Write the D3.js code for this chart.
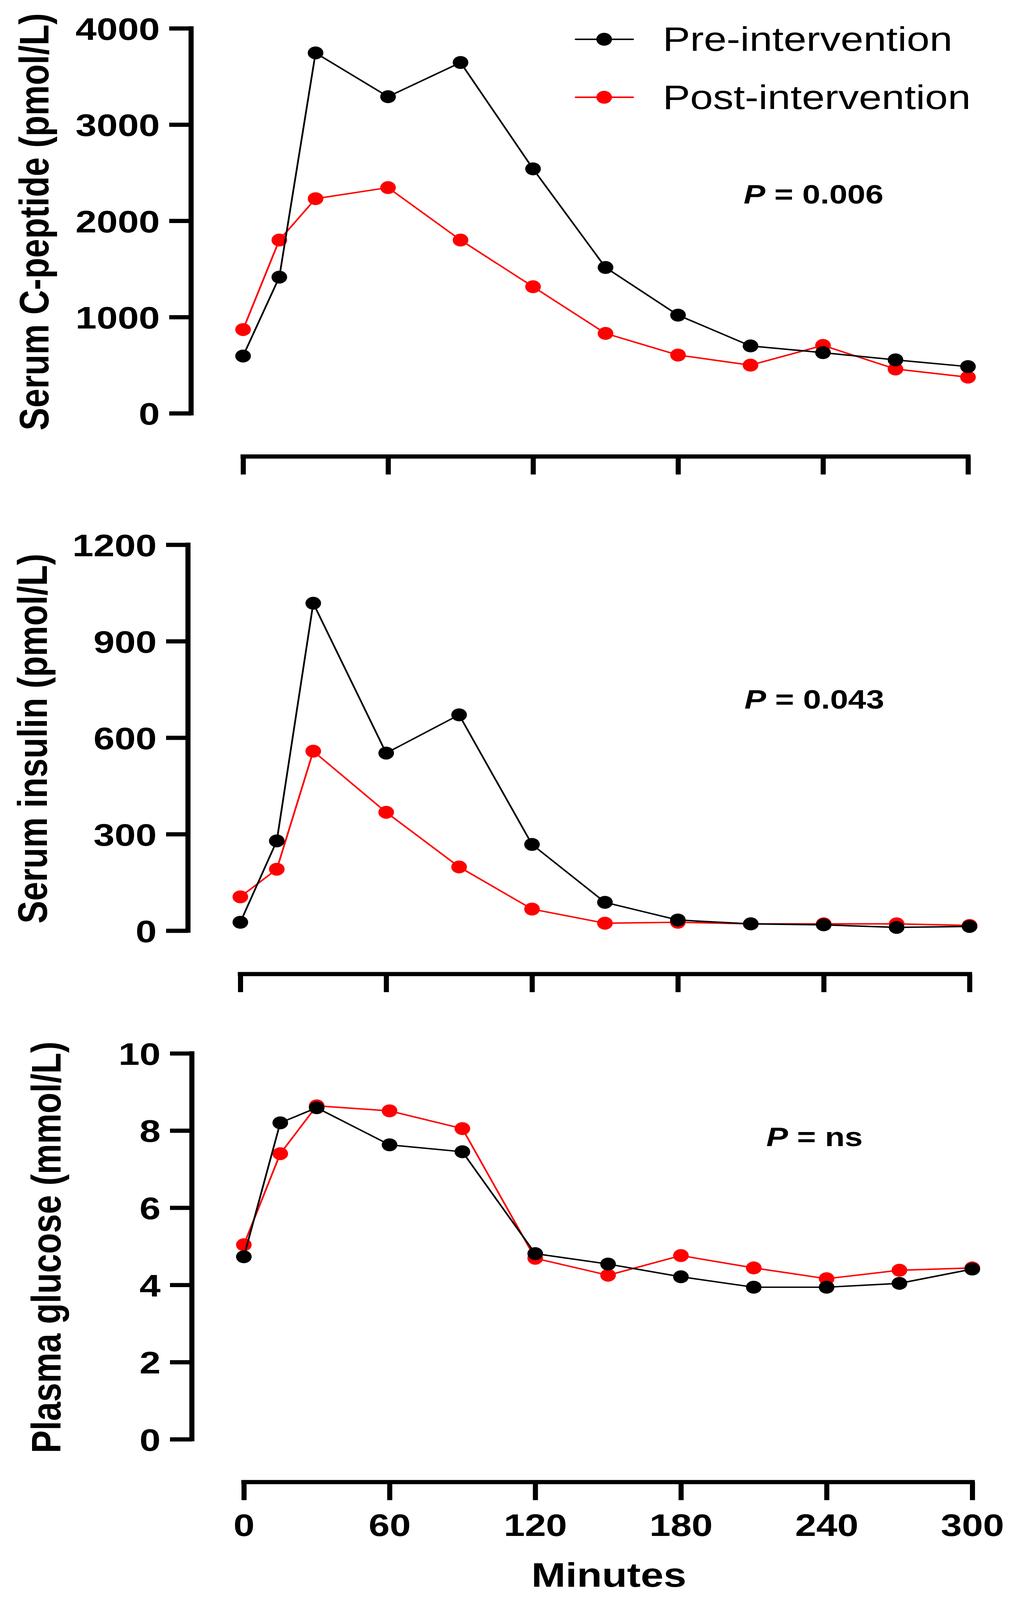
<!DOCTYPE html>
<html>
<head>
<meta charset="utf-8">
<script src="https://cdn.jsdelivr.net/npm/d3@7"></script>
<style>
html, body { margin: 0; background: #fff; overflow: hidden; }
svg { display: block; }
text { font-family: "Liberation Sans", Arial, sans-serif; fill: #000; }
</style>
</head>
<body>
<svg class="chart"></svg>
<script>
// sampling times (min)
var minutes = [0, 15, 30, 60, 90, 120, 150, 180, 210, 240, 270, 300]
var xTicks = [0, 60, 120, 180, 240, 300]

var seriesNames = ['Pre-intervention', 'Post-intervention']
var seriesColors = ['#000000', '#ff0000']

var yTitles = ['Serum C-peptide (pmol/L)', 'Serum insulin (pmol/L)', 'Plasma glucose (mmol/L)']
var pValues = ['0.006', '0.043', 'ns']

var cpepTicks = [0, 1000, 2000, 3000, 4000]
var cpepPre = [595, 1415, 3745, 3290, 3645, 2540, 1515, 1020, 700, 630, 555, 485]
var cpepPost = [870, 1800, 2230, 2345, 1800, 1315, 830, 605, 500, 705, 460, 375]

var insTicks = [0, 300, 600, 900, 1200]
var insPre = [26, 279, 1018, 552, 671, 268, 88, 33, 21, 18, 10, 13]
var insPost = [105, 191, 558, 368, 198, 67, 23, 26, 21, 21, 21, 16]

var gluTicks = [0, 2, 4, 6, 8, 10]
var gluPre = [4.73, 8.20, 8.59, 7.63, 7.45, 4.81, 4.54, 4.21, 3.94, 3.94, 4.04, 4.41]
var gluPost = [5.04, 7.40, 8.64, 8.51, 8.05, 4.69, 4.25, 4.76, 4.44, 4.16, 4.38, 4.44]

var width = 2605
var height = 4967
var axisWidth = 13
var tickLen = 56
var tickFont = 97
var titleFont = 106
var dotRadius = 20

// the window may be shorter than the figure, so the drawing is fitted to it
var svg = d3.select('.chart')
    .attr('width', window.innerWidth || width)
    .attr('height', window.innerHeight || height)
    .attr('viewBox', '0 0 ' + width + ' ' + height)
    .attr('preserveAspectRatio', 'none')

svg.append('rect')
    .attr('width', width)
    .attr('height', height)
    .attr('fill', '#fff')

var panels = [
    { title: yTitles[0], ticks: cpepTicks, series: [cpepPre, cpepPost], p: pValues[0],
      axisX: 489, top: 88, bottom: 1283, left: 622, right: 2477, axisY: 1417,
      titleX: 124, pX: 1903, pY: 632, xLabels: false },
    { title: yTitles[1], ticks: insTicks, series: [insPre, insPost], p: pValues[1],
      axisX: 481, top: 1691, bottom: 2889, left: 615, right: 2481, axisY: 3024,
      titleX: 120, pX: 1905, pY: 2200, xLabels: false },
    { title: yTitles[2], ticks: gluTicks, series: [gluPre, gluPost], p: pValues[2],
      axisX: 491, top: 3270, bottom: 4468, left: 624, right: 2488, axisY: 4601,
      titleX: 155, pX: 1961, pY: 3558, xLabels: true }
]

function styleAxis(g) {
    g.attr('font-size', tickFont)
        .attr('font-family', '"Liberation Sans", Arial, sans-serif')
        .attr('font-weight', 'bold')
    g.select('.domain').remove()
    g.selectAll('.tick line')
        .attr('stroke', '#000')
        .attr('stroke-width', axisWidth)
    g.selectAll('.tick text').attr('fill', '#000')
}

function drawPanel(p) {
    var y = d3.scaleLinear()
        .domain([d3.min(p.ticks), d3.max(p.ticks)])
        .range([p.bottom, p.top])
    var x = d3.scaleLinear()
        .domain([d3.min(xTicks), d3.max(xTicks)])
        .range([p.left, p.right])

    var g = svg.append('g')

    // y axis
    var ya = g.append('g')
        .attr('transform', 'translate(' + p.axisX + ',0)')
        .call(d3.axisLeft(y).tickValues(p.ticks).tickSize(tickLen).tickSizeOuter(0).tickPadding(24)
            .tickFormat(d3.format('d')))
    styleAxis(ya)
    ya.selectAll('.tick text').attr('dy', '0.36em')
    ya.append('line')
        .attr('y1', y.range()[0]).attr('y2', y.range()[1])
        .attr('stroke', '#000')
        .attr('stroke-width', axisWidth)
        .attr('stroke-linecap', 'square')

    // x axis
    var xa = g.append('g')
        .attr('transform', 'translate(0,' + p.axisY + ')')
        .call(d3.axisBottom(x).tickValues(xTicks).tickSize(tickLen).tickSizeOuter(0).tickPadding(42)
            .tickFormat(p.xLabels ? d3.format('d') : ''))
    styleAxis(xa)
    xa.append('line')
        .attr('x1', x.range()[0]).attr('x2', x.range()[1])
        .attr('stroke', '#000')
        .attr('stroke-width', axisWidth)
        .attr('stroke-linecap', 'square')

    g.append('text')
        .attr('transform', 'translate(' + p.titleX + ',' + ((p.top + p.bottom) / 2 + 3) + ') rotate(-90)')
        .attr('text-anchor', 'middle')
        .attr('font-size', titleFont)
        .attr('font-weight', 'bold')
        .text(p.title)

    var pt = g.append('text')
        .attr('x', p.pX)
        .attr('y', p.pY)
        .attr('font-size', 83)
        .attr('font-weight', 'bold')
    pt.append('tspan').attr('font-style', 'italic').text('P')
    pt.append('tspan').text(' = ' + p.p)

    var line = d3.line()
        .x((d, i) => x(minutes[i]))
        .y(d => y(d))

    // post drawn first, pre sits on top
    d3.range(p.series.length).reverse().forEach(si => {
        var vals = p.series[si]
        g.append('path')
            .datum(vals)
            .attr('d', line)
            .attr('fill', 'none')
            .attr('stroke', seriesColors[si])
            .attr('stroke-width', 4.5)
            .attr('stroke-linejoin', 'round')
        g.append('g')
            .selectAll('circle')
            .data(vals)
            .enter()
            .append('circle')
            .attr('cx', (d, i) => x(minutes[i]))
            .attr('cy', d => y(d))
            .attr('r', dotRadius)
            .attr('fill', seriesColors[si])
    })
}

panels.forEach(drawPanel)

svg.append('text')
    .attr('x', (panels[2].left + panels[2].right) / 2 + 2)
    .attr('y', 4926)
    .attr('text-anchor', 'middle')
    .attr('font-size', 105)
    .attr('font-weight', 'bold')
    .text('Minutes')

// legend
var legend = svg.append('g')
    .selectAll('g')
    .data(seriesNames)
    .enter()
    .append('g')
    .attr('transform', (d, i) => 'translate(0,' + (122 + i * 180) + ')')

legend.append('line')
    .attr('x1', 1473).attr('x2', 1620)
    .attr('stroke', (d, i) => seriesColors[i])
    .attr('stroke-width', 4.7)
    .attr('stroke-linecap', 'round')
legend.append('circle')
    .attr('cx', 1546)
    .attr('r', dotRadius)
    .attr('fill', (d, i) => seriesColors[i])
legend.append('text')
    .attr('x', 1696)
    .attr('y', 36)
    .attr('font-size', 105)
    .text(d => d)
</script>
</body>
</html>
